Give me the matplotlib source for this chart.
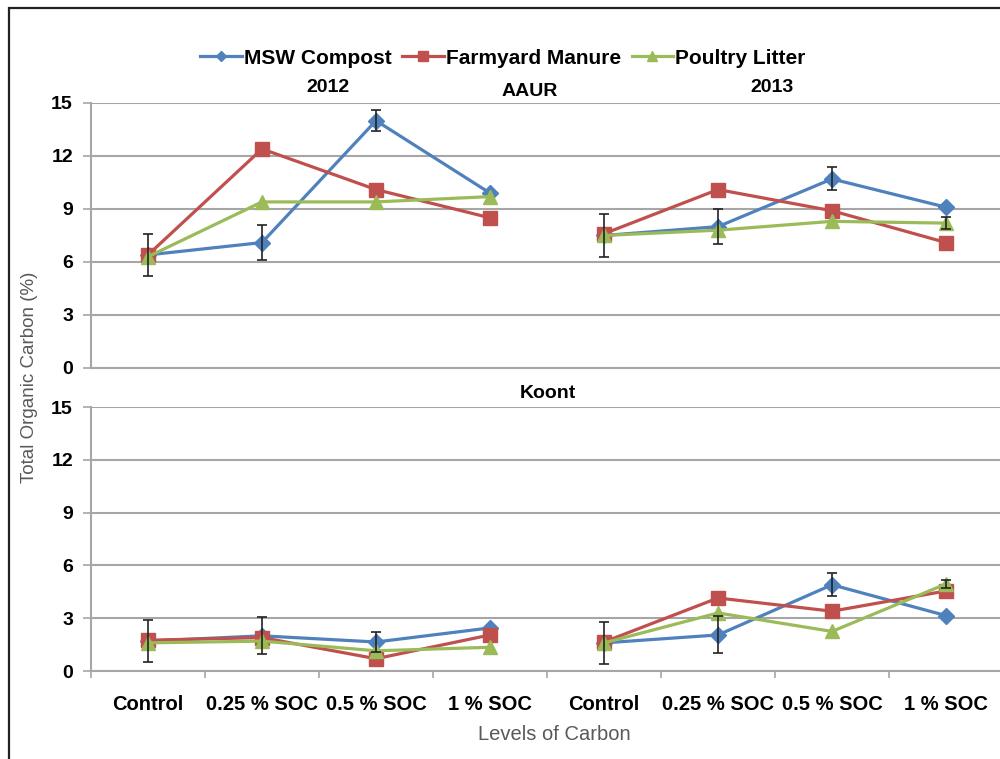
import numpy as np
import matplotlib.pyplot as plt
from matplotlib.patches import Rectangle
from matplotlib.lines import Line2D

plt.rcParams['font.family'] = ['Liberation Sans', 'DejaVu Sans']

levels = ['Control', '0.25 % SOC', '0.5 % SOC', '1 % SOC']
series = ['MSW Compost', 'Farmyard Manure', 'Poultry Litter']
colors = ['#4F81BD', '#C0504D', '#9BBB59']
markers = ['D', 's', '^']
msizes = [8, 10, 10]

# AAUR site, 2012 then 2013
aaur_2012 = [[6.4, 7.1, 14.0, 9.9],
             [6.4, 12.4, 10.1, 8.5],
             [6.3, 9.4, 9.4, 9.7]]
aaur_2013 = [[7.5, 8.0, 10.7, 9.1],
             [7.6, 10.1, 8.9, 7.1],
             [7.5, 7.8, 8.3, 8.2]]
aaur_err_2012 = [[1.2, 1.0, 0.6, 0.0],
                 [0, 0, 0, 0],
                 [0, 0, 0, 0]]
aaur_err_2013 = [[1.2, 1.0, 0.65, 0.0],
                 [0, 0, 0, 0],
                 [0, 0, 0, 0.35]]

# Koont site
koont_2012 = [[1.7, 2.0, 1.65, 2.45],
              [1.75, 1.9, 0.7, 2.05],
              [1.6, 1.7, 1.15, 1.35]]
koont_2013 = [[1.6, 2.05, 4.9, 3.15],
              [1.65, 4.15, 3.4, 4.55],
              [1.6, 3.3, 2.25, 4.95]]
koont_err_2012 = [[1.2, 1.05, 0.55, 0.0],
                  [0, 0, 0, 0],
                  [0, 0, 0, 0]]
koont_err_2013 = [[1.2, 1.05, 0.65, 0.0],
                  [0, 0, 0, 0],
                  [0, 0, 0, 0.25]]

grid_c = '#A6A6A6'

fig = plt.figure(figsize=(10, 7.59), dpi=100)
ax_top = fig.add_axes([0.091, 0.5152, 0.912, 0.3491])
ax_bot = fig.add_axes([0.091, 0.1159, 0.912, 0.3478])

x1 = np.arange(4)
x2 = np.arange(4) + 4


def draw_panel(ax, d12, d13, e12, e13):
    for i in range(3):
        for xs, d, e in ((x1, d12, e12), (x2, d13, e13)):
            ax.plot(xs, d[i], color=colors[i], marker=markers[i], ms=msizes[i],
                    lw=2.3, zorder=3 + i)
            err = np.array(e[i])
            m = err > 0
            ax.errorbar(xs[m], np.array(d[i])[m], yerr=err[m], fmt='none',
                        ecolor='#222222', elinewidth=1.2, capsize=3.5,
                        capthick=1.2, zorder=8)
    ax.set_ylim(0, 15)
    ax.set_xlim(-0.5, 7.5)
    ax.set_yticks(np.arange(0, 16, 3))
    ax.grid(axis='y', color=grid_c, lw=1.5)
    ax.set_axisbelow(True)
    for s in ['top', 'right']:
        ax.spines[s].set_visible(False)
    ax.spines['left'].set_color(grid_c)
    ax.spines['bottom'].set_color(grid_c)
    ax.spines['left'].set_linewidth(1.5)
    ax.spines['bottom'].set_linewidth(1.5)
    ax.tick_params(axis='y', length=6, color=grid_c, width=1.2, pad=7,
                   labelsize=14)
    for t in ax.get_yticklabels():
        t.set_fontweight('bold')


draw_panel(ax_top, aaur_2012, aaur_2013, aaur_err_2012, aaur_err_2013)
draw_panel(ax_bot, koont_2012, koont_2013, koont_err_2012, koont_err_2013)

ax_top.set_xticks([])
ax_bot.set_xticks(np.arange(-0.5, 8, 1))
ax_bot.set_xticklabels([])
ax_bot.tick_params(axis='x', which='major', length=5, color=grid_c, width=1.2)
ax_bot.set_xticks(np.arange(8), minor=True)
ax_bot.set_xticklabels(levels * 2, minor=True, fontsize=14.5, fontweight='bold')
ax_bot.tick_params(axis='x', which='minor', length=0, pad=17)

# titles
fig.text(0.328, 1 - 88 / 759, '2012', ha='center', va='center',
         fontsize=14, fontweight='bold')
fig.text(0.530, 1 - 92 / 759, 'AAUR', ha='center', va='center',
         fontsize=14, fontweight='bold')
fig.text(0.772, 1 - 87 / 759, '2013', ha='center', va='center',
         fontsize=14, fontweight='bold')
fig.text(0.548, 1 - 393 / 759, 'Koont', ha='center', va='center',
         fontsize=14, fontweight='bold')

fig.text(0.030, 1 - 377 / 759, 'Total Organic Carbon (%)', rotation=90,
         ha='center', va='center', fontsize=13.5, color='#595959')
fig.text(0.554, 1 - 735 / 759, 'Levels of Carbon', ha='center', va='center',
         fontsize=14.5, color='#595959')

handles = [Line2D([], [], color=colors[i], marker=markers[i],
                  ms=msizes[i] * 0.7, lw=2.3) for i in range(3)]
fig.legend(handles, series, loc='center', bbox_to_anchor=(0.503, 1 - 58 / 759),
           ncol=3, frameon=False, prop={'weight': 'bold', 'size': 15},
           handlelength=2.0, handletextpad=0.1, columnspacing=0.5)

# outer frame
fig.patches.append(Rectangle((0.009, -0.1), 1.2, 1.0895, fill=False,
                             ec='#222222', lw=1.6, transform=fig.transFigure))

fig.savefig('out.png', dpi=100)
